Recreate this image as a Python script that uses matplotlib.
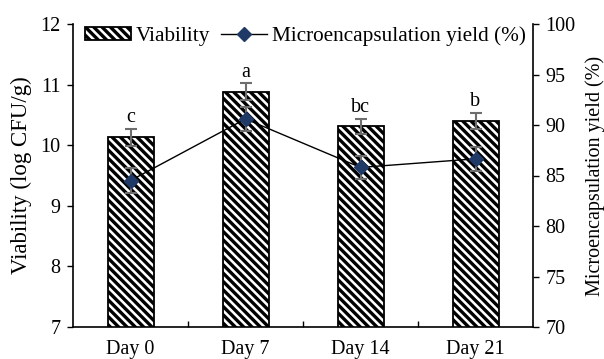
import matplotlib
matplotlib.use("Agg")
import matplotlib.pyplot as plt
import numpy as np

categories = ["Day 0", "Day 7", "Day 14", "Day 21"]
viability = [10.13, 10.88, 10.31, 10.40]
viability_err = [0.14, 0.14, 0.13, 0.13]
yield_pct = [84.5, 90.6, 85.8, 86.65]
yield_err = [1.2, 1.15, 1.15, 1.2]
letters = ["c", "a", "bc", "b"]

plt.rcParams['font.family'] = 'Liberation Serif'
plt.rcParams['font.size'] = 14.5
plt.rcParams['hatch.linewidth'] = 2.4

fig = plt.figure(figsize=(6.04, 3.59), dpi=100)
ax = fig.add_axes([73/604, 1-327/359, (533-73)/604, (327-24)/359])
x = np.arange(len(categories))
bars = ax.bar(x, viability, width=0.4, color='white', edgecolor='black',
              hatch='\\\\\\\\', linewidth=1.3, label='Viability', zorder=2)
ax.errorbar(x, viability, yerr=viability_err, fmt='none', ecolor='#6e6e6e',
            elinewidth=1.5, capsize=4, capthick=1.5, zorder=3)
for xi, v, e, l in zip(x, viability, viability_err, letters):
    ax.text(xi, v + e + 0.03, l, ha='center', va='bottom', fontsize=14.5)
ax.set_xlim(-0.5, 3.5)
ax.set_ylim(7, 12)
ax.set_yticks([7, 8, 9, 10, 11, 12])
ax.set_xticks([0.5, 1.5, 2.5], minor=False)
ax.set_xticklabels([])
ax.set_xticks(x, minor=True)
ax.set_xticklabels(categories, minor=True)
ax.tick_params(axis='x', which='major', direction='in', length=4, width=1)
ax.tick_params(axis='x', which='minor', length=0, pad=9.5)
ax.tick_params(axis='y', direction='out', length=4, width=1, pad=5)
ax.spines['top'].set_visible(False)
ax.spines['right'].set_visible(False)
for s in ['left', 'bottom']:
    ax.spines[s].set_linewidth(1.2)
ax.set_ylabel('Viability (log CFU/g)', labelpad=6, fontsize=16.5)

ax2 = ax.twinx()
ax2.set_ylim(70, 100)
ax2.set_yticks([70, 75, 80, 85, 90, 95, 100])
ln, = ax2.plot(x, yield_pct, color='black', linewidth=1, marker='D',
               markersize=7, markerfacecolor='#1F3A66', markeredgecolor='#1F3A66',
               label='Microencapsulation yield (%)', zorder=4)
ax2.errorbar(x, yield_pct, yerr=yield_err, fmt='none', ecolor='#6e6e6e',
             elinewidth=1.5, capsize=4, capthick=1.5, zorder=3)
ax2.spines['top'].set_visible(False)
ax2.spines['left'].set_visible(False)
ax2.spines['bottom'].set_visible(False)
ax2.spines['right'].set_linewidth(1.2)
ax2.tick_params(axis='y', direction='out', length=4, width=1, pad=5)
ax2.set_ylabel('Microencapsulation yield (%)', rotation=90, labelpad=7)

leg = ax.legend([bars, ln], ['Viability', 'Microencapsulation yield (%)'],
                loc='upper left', bbox_to_anchor=(0.0, 1.03), ncol=2, frameon=False,
                handlelength=2.2, handleheight=0.55, handletextpad=0.2,
                columnspacing=0.5, borderaxespad=0.2, borderpad=0.35,
                fontsize=15.3)

fig.savefig('out.png', dpi=100)
